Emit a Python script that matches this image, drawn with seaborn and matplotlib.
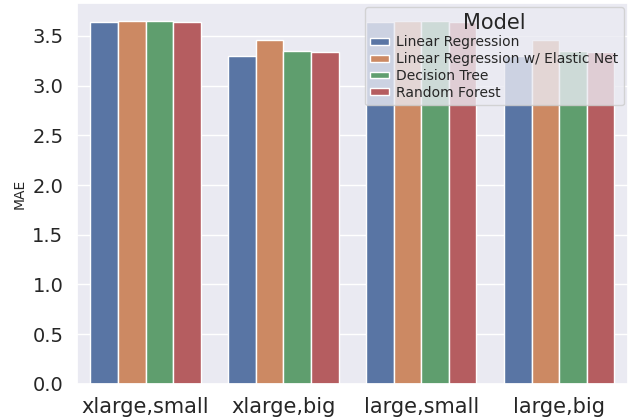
import pandas as pd
import seaborn as sns
import matplotlib.pyplot as plt

configs = ['xlarge,small', 'xlarge,big', 'large,small', 'large,big']
models = ['Linear Regression', 'Linear Regression w/ Elastic Net',
          'Decision Tree', 'Random Forest']
mae_lr = [3.64, 3.30, 3.64, 3.30]
mae_en = [3.65, 3.46, 3.65, 3.46]
mae_dt = [3.65, 3.345, 3.65, 3.345]
mae_rf = [3.64, 3.335, 3.64, 3.335]

rows = []
for m, vals in zip(models, [mae_lr, mae_en, mae_dt, mae_rf]):
    for c, v in zip(configs, vals):
        rows.append({'Config': c, 'Model': m, 'MAE': v})
df = pd.DataFrame(rows)

sns.set_theme(style='darkgrid')
plt.rcParams['font.family'] = ['DejaVu Sans']
fig, ax = plt.subplots(figsize=(6.39, 4.2), dpi=100)
sns.barplot(data=df, x='Config', y='MAE', hue='Model', palette='deep', ax=ax)
ax.set_xlabel('')
ax.set_ylabel('MAE', fontsize=10)
ax.tick_params(axis='y', labelsize=14)
ax.tick_params(axis='x', labelsize=15)
leg = ax.legend(title='Model', loc='upper right', fontsize=10, title_fontsize=15,
                handlelength=1.3, handleheight=0.36, labelspacing=0.2,
                handletextpad=0.55, borderaxespad=0.3)
fig.subplots_adjust(left=0.12, right=0.983, bottom=0.086, top=0.993)
fig.savefig('out.png', dpi=100)
